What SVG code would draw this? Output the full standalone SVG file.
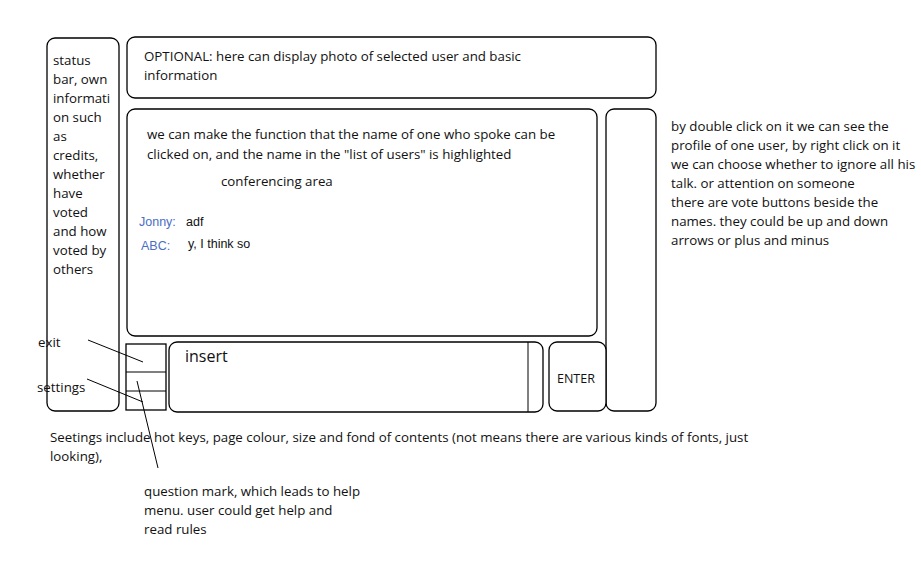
<svg xmlns="http://www.w3.org/2000/svg" width="921" height="570" viewBox="0 0 921 570">
<style>
.box{fill:#fff;stroke:#000;stroke-width:1.3}
.t{font-family:"Open Sans","Noto Sans","DejaVu Sans",sans-serif;font-size:13.3px;fill:#111}
.n{font-family:"Liberation Sans",Arial,sans-serif;font-size:12.5px;fill:#4a6ec4}
.m{font-family:"Liberation Sans",Arial,sans-serif;font-size:12.5px;fill:#111}
.ln{stroke:#000;stroke-width:1;fill:none}
</style>
<rect width="921" height="570" fill="#fff"/>
<g id="status">
<rect class="box" x="47" y="38" width="72" height="373" rx="8"/>
<text class="t" x="53"><tspan x="53" y="65">status</tspan><tspan x="53" y="84">bar, own</tspan><tspan x="53" y="103">informati</tspan><tspan x="53" y="122">on such</tspan><tspan x="53" y="141">as</tspan><tspan x="53" y="160">credits,</tspan><tspan x="53" y="179">whether</tspan><tspan x="53" y="198">have</tspan><tspan x="53" y="217">voted</tspan><tspan x="53" y="236">and how</tspan><tspan x="53" y="255">voted by</tspan><tspan x="53" y="274">others</tspan></text>
</g>
<g id="optional">
<rect class="box" x="127" y="37" width="529" height="61" rx="8"/>
<text class="t"><tspan x="144" y="61">OPTIONAL: here can display photo of selected user and basic</tspan><tspan x="144" y="80">information</tspan></text>
</g>
<g id="conference">
<rect class="box" x="127" y="109" width="470" height="227" rx="8"/>
<text class="t"><tspan x="147" y="139">we can make the function that the name of one who spoke can be</tspan><tspan x="147" y="159">clicked on, and the name in the "list of users" is highlighted</tspan></text>
<text class="t" x="221" y="186">conferencing area</text>
<text class="n" x="139" y="226">Jonny:</text>
<text class="m" x="186" y="226">adf</text>
<text class="n" x="141" y="250">ABC:</text>
<text class="m" x="188" y="248">y, I think so</text>
</g>
<g id="userlist">
<rect class="box" x="606" y="109" width="50" height="302" rx="8"/>
</g>
<g id="buttons">
<rect class="box" x="126" y="344" width="40" height="66"/>
<line class="ln" x1="126" y1="372" x2="166" y2="372"/>
<line class="ln" x1="126" y1="391" x2="166" y2="391"/>
</g>
<g id="insert">
<rect class="box" x="169" y="342" width="374" height="70" rx="8"/>
<line class="ln" x1="528" y1="342" x2="528" y2="412"/>
<text class="t" x="185" y="362" style="font-size:16px">insert</text>
</g>
<g id="enter">
<rect class="box" x="549" y="342" width="57" height="69" rx="8"/>
<text class="t" x="557" y="383" style="font-size:12.5px">ENTER</text>
</g>
<g id="notes">
<text class="t"><tspan x="671" y="131">by double click on it we can see the</tspan><tspan x="671" y="150">profile of one user, by right click on it</tspan><tspan x="671" y="169">we can choose whether to ignore all his</tspan><tspan x="671" y="188">talk. or attention on someone</tspan><tspan x="671" y="207">there are vote buttons beside the</tspan><tspan x="671" y="226">names. they could be up and down</tspan><tspan x="671" y="245">arrows or plus and minus</tspan></text>
<text class="t" x="38" y="347">exit</text>
<text class="t" x="37" y="392">settings</text>
<text class="t"><tspan x="50" y="442">Seetings include hot keys, page colour, size and fond of contents (not means there are various kinds of fonts, just</tspan><tspan x="50" y="461">looking),</tspan></text>
<text class="t"><tspan x="144" y="496">question mark, which leads to help</tspan><tspan x="144" y="515">menu. user could get help and</tspan><tspan x="144" y="534">read rules</tspan></text>
</g>
<g id="connectors">
<line class="ln" x1="88" y1="340" x2="143" y2="362"/>
<line class="ln" x1="87" y1="379" x2="143" y2="402"/>
<line class="ln" x1="137" y1="381" x2="158" y2="468"/>
</g>
</svg>
